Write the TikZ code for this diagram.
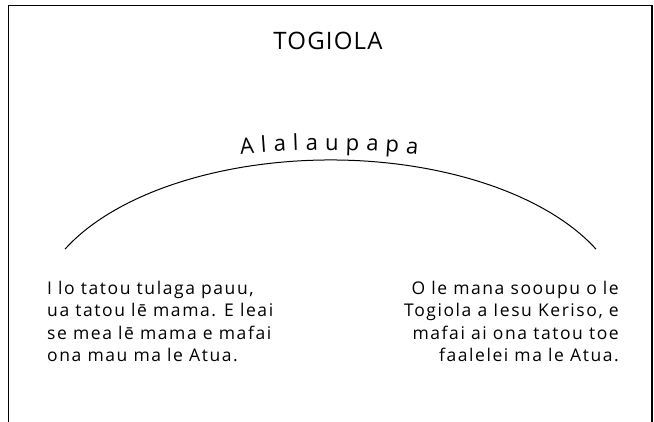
\documentclass[tikz,border=0pt]{standalone}
\usepackage{fontspec}
\setmainfont{Open Sans}
\newfontfamily\spacedfont[LetterSpace=9]{Open Sans}
\newfontfamily\titlefamily[LetterSpace=5]{Open Sans}
\usetikzlibrary{decorations.text}
\tikzset{
  frame/.style={draw=black, line width=1.4pt},
  bridge/.style={draw=black, line width=1pt},
  titletext/.style={font=\titlefamily\fontsize{24}{24}\selectfont, inner sep=0pt},
  bodytext/.style={font=\spacedfont\fontsize{17.5}{22.3}\selectfont, inner sep=0pt},
}
\newcommand{\alalfont}{\fontsize{22}{22}\selectfont}
\begin{document}
\begin{tikzpicture}[x=1pt,y=1pt]
  \useasboundingbox (0,0) rectangle (654,422);
  % frame (bottom edge runs off the page)
  \coordinate (bl) at (8.3,-5);
  \coordinate (tl) at (8.3,416.2);
  \coordinate (tr) at (651.8,416.2);
  \coordinate (br) at (651.8,-5);
  \draw[frame] (bl) -- (tl) -- (tr) -- (br);
  % title
  \node[titletext, anchor=base] (title) at (328,372.7) {TOGIOLA};
  % bridge arc
  \coordinate (arcstart) at ([shift={(330.5,104)}]154.16:295 and 158);
  \draw[bridge] (arcstart) arc[start angle=154.16, end angle=25.84, x radius=295, y radius=158];
  % arc label
  \coordinate (labstart) at ([shift={(330,-628)}]95.7:900);
  \path[decorate, decoration={text along path, text={|\alalfont|Alalaupapa}, text align={fit to path}}]
    (labstart) arc[start angle=95.7, end angle=84.4, radius=900];
  % texts
  \node[bodytext, align=left, anchor=north west] (left) at (47,141)
    {I lo tatou tulaga pauu,\\ua tatou lē mama. E leai\\se mea lē mama e mafai\\ona mau ma le Atua.};
  \node[bodytext, align=right, anchor=north east] (right) at (619,141)
    {O le mana sooupu o le\\Togiola a Iesu Keriso, e\\mafai ai ona tatou toe\\faalelei ma le Atua.};
\end{tikzpicture}
\end{document}
